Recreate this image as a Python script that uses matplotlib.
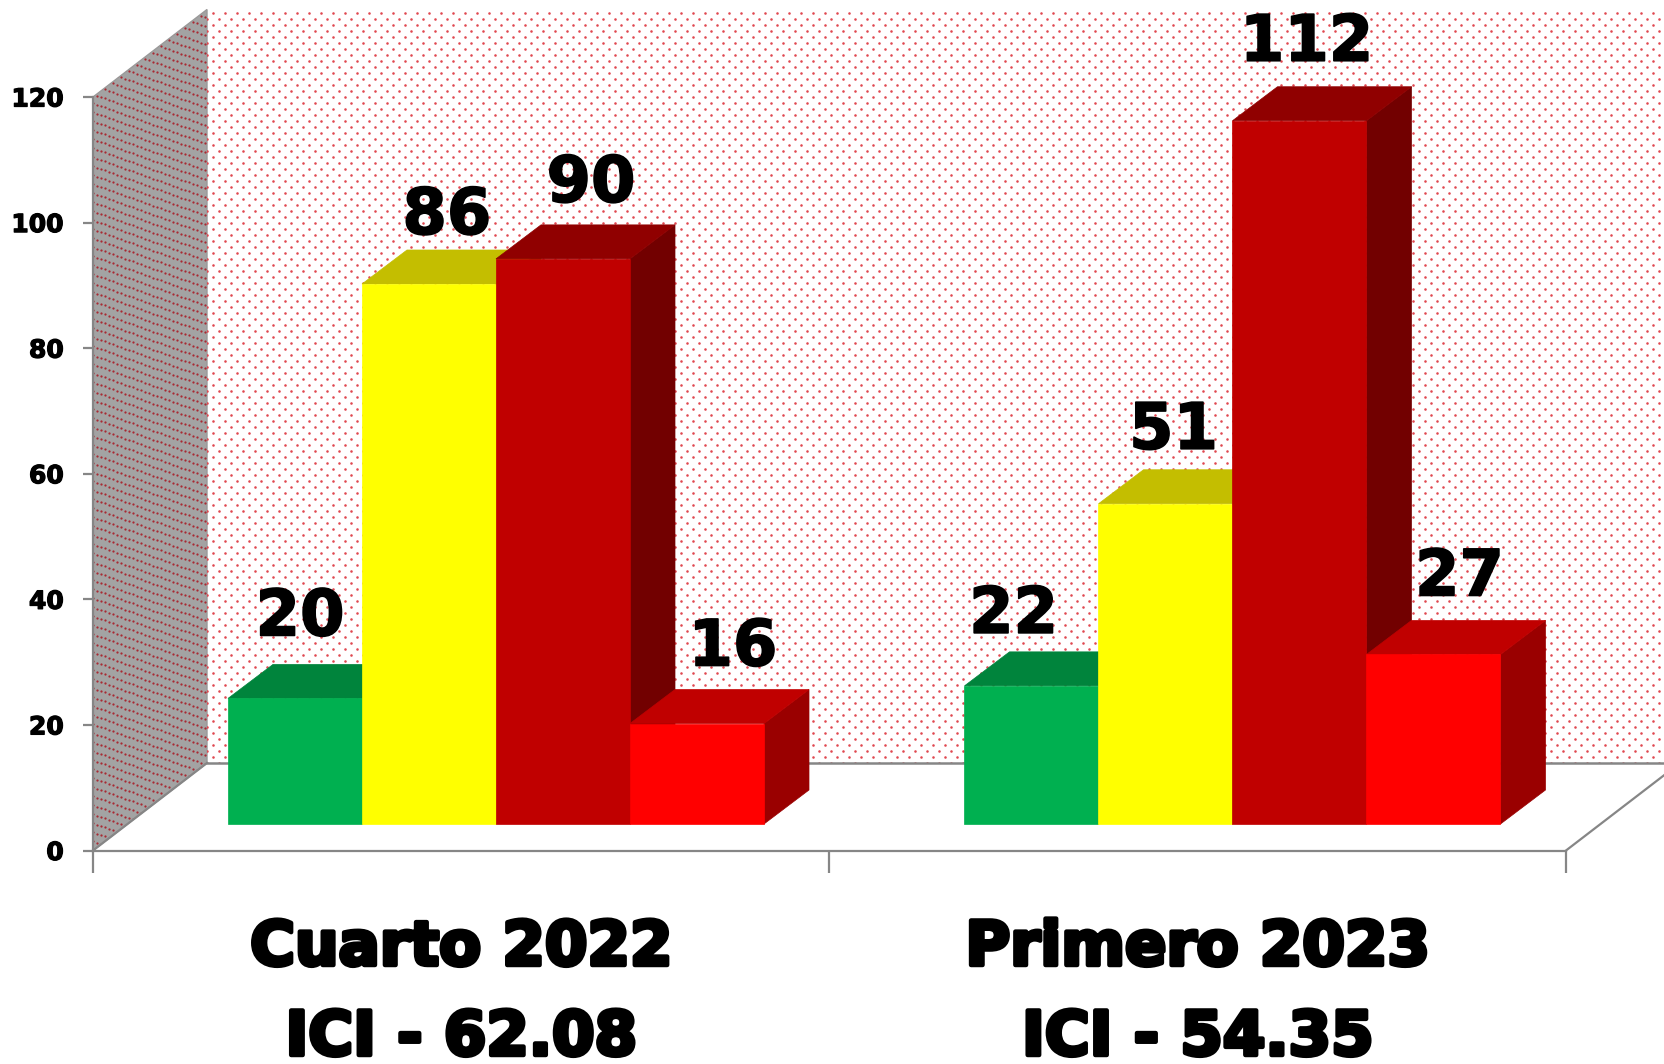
import matplotlib
matplotlib.use('Agg')
import matplotlib.pyplot as plt
import matplotlib.patheffects as pe
import numpy as np

categories = ['Cuarto 2022\nICI - 62.08', 'Primero 2023\nICI - 54.35']
verde = [20, 22]
amarillo = [86, 51]
rojo_oscuro = [90, 112]
rojo = [16, 27]
y_ticks = [0, 20, 40, 60, 80, 100, 120]

series = [verde, amarillo, rojo_oscuro, rojo]
# front, top, side
colores = [('#00B050', '#00843C', '#005C2A'),
           ('#FFFF00', '#C4BE00', '#8F8F00'),
           ('#C00000', '#900000', '#720000'),
           ('#FF0000', '#C00000', '#9A0000')]

# label offsets from the bar's top centre, in pixels
label_dx = [[5, 18, 28, 36], [-18, 8, 7, 26]]
label_dy = [63, 50, 57, 58], [53, 55, 60, 59]

W, H = 1665, 1064
fig = plt.figure(figsize=(W / 100, H / 100), dpi=100, facecolor='white')
ax = fig.add_axes([93 / W, (H - 850.5) / H, 1473 / W, 753.5 / H])
ax.set_xlim(0, 2)
ax.set_ylim(0, 120)
ax.patch.set_visible(False)

px_x = 2 / 1473       # x units per pixel
px_y = 120 / 753.5    # y units per pixel

# depth of the walls
wall_dx = 114 * px_x
wall_dy = 87.5 * px_y
gris = '#868686'


def dots(x0, x1, y0, y1, pitch_x, pitch_y, shear, clip, color, size, z):
    xs, ys = [], []
    for i, x in enumerate(np.arange(x0, x1, pitch_x)):
        for j, y in enumerate(np.arange(y0, y1, pitch_y)):
            if (i + j) % 2 == 0:
                xs.append(x)
                ys.append(y + (x - x0) * shear)
    pts = ax.scatter(xs, ys, s=size, c=color, linewidths=0, marker='o', zorder=z, clip_on=True)
    pts.set_clip_path(clip)


# back wall
back = ax.fill([wall_dx, 2.3, 2.3, wall_dx],
               [wall_dy, wall_dy, 120 + wall_dy, 120 + wall_dy],
               color='white', lw=0, zorder=1, clip_on=False)[0]
dots(wall_dx, 2.3, wall_dy, 120 + wall_dy, 6 * px_x, 6 * px_y, 0, back, '#E04850', 3.4, 2)

# side wall
side = ax.fill([0, wall_dx, wall_dx, 0], [0, wall_dy, 120 + wall_dy, 120],
               facecolor='#A3A3A3', edgecolor='#9A9A9A', lw=1, zorder=1, clip_on=False)[0]
dots(0, wall_dx, -20, 125, 4 * px_x, 4.5 * px_y, wall_dy / wall_dx, side, '#A82A33', 2.6, 2)

# floor lines
ax.plot([0, wall_dx], [0, wall_dy], color=gris, lw=1.6, zorder=3, clip_on=False)
ax.plot([wall_dx, 2.3], [wall_dy, wall_dy], color=gris, lw=1.8, zorder=3, clip_on=False)
ax.plot([2, 2 + 2 * wall_dx], [0, 2 * wall_dy], color=gris, lw=1.6, zorder=3, clip_on=False)

# bars
bar_w = 134.0 * px_x
bar_dx = 45 * px_x
bar_dy = 34 * px_y
base_x = 35 * px_x
base_y = 26.5 * px_y
start = 100 * px_x + base_x

for g in range(len(categories)):
    for s, vals in enumerate(series):
        x0 = g + start + s * bar_w
        x1 = x0 + bar_w
        top = base_y + vals[g]
        z = 10 + s * 2 + g * 20
        fr, tp, sd = colores[s]
        ax.fill([x1, x1 + bar_dx, x1 + bar_dx, x1],
                [base_y, base_y + bar_dy, top + bar_dy, top],
                facecolor=sd, edgecolor=sd, lw=0.5, zorder=z, clip_on=False)
        ax.fill([x0, x1, x1 + bar_dx, x0 + bar_dx],
                [top, top, top + bar_dy, top + bar_dy],
                facecolor=tp, edgecolor=tp, lw=0.5, zorder=z, clip_on=False)
        ax.bar(x0, vals[g], width=bar_w, bottom=base_y, align='edge',
               color=fr, edgecolor=fr, lw=0.5, zorder=z + 1, clip_on=False)
        ax.annotate(str(vals[g]), xy=(x0 + bar_w / 2, top),
                    xytext=(label_dx[g][s] * 0.72, label_dy[g][s] * 0.72),
                    textcoords='offset points', ha='center', va='baseline',
                    fontsize=46, fontweight='bold', family='DejaVu Sans',
                    color='black', zorder=100, annotation_clip=False,
                    path_effects=[pe.withStroke(linewidth=1.2, foreground='black')])

# axes
for name in ['top', 'right']:
    ax.spines[name].set_visible(False)
for name in ['left', 'bottom']:
    ax.spines[name].set_color(gris)
    ax.spines[name].set_linewidth(1.6)
    ax.spines[name].set_zorder(4)

stroke = [pe.withStroke(linewidth=0.9, foreground='black')]
ax.set_yticks(y_ticks)
ax.tick_params(axis='y', length=7, width=1.6, color=gris, pad=14)
for lab in ax.get_yticklabels():
    lab.set_fontsize(18)
    lab.set_fontweight('bold')
    lab.set_family('DejaVu Sans')
    lab.set_path_effects(stroke)

ax.set_xticks([0, 1, 2])
ax.set_xticklabels([])
ax.tick_params(axis='x', length=16, width=1.6, color=gris)

# group labels, two lines
for i, cat in enumerate(categories):
    lines = cat.split('\n')
    for txt, px_down in zip(lines, [965, 1055]):
        ax.annotate(txt, xy=(i + 0.5, 0), xycoords='data',
                    xytext=(0, -(px_down - 850.5) * 0.72), textcoords='offset points',
                    ha='center', va='baseline', fontsize=44, fontweight='bold',
                    family='DejaVu Sans', color='black', annotation_clip=False,
                    path_effects=[pe.withStroke(linewidth=3.2, foreground='black')])

fig.savefig('out.png', dpi=100)
print('out.png')
